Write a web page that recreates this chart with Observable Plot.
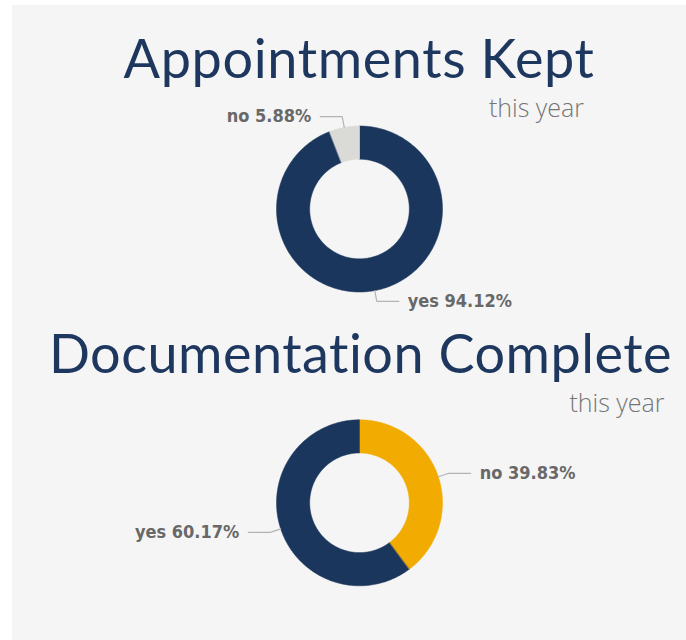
<!DOCTYPE html>
<html>
<head>
<meta charset="utf-8">
<script src="https://cdn.jsdelivr.net/npm/d3@7"></script>
<script src="https://cdn.jsdelivr.net/npm/@observablehq/plot@0.6"></script>
<style>
  html, body { margin: 0; padding: 0; background: #ffffff; }
  body { width: 686px; height: 640px; position: relative; overflow: hidden; }
  #panel { position: absolute; left: 12px; top: 5px; width: 674px; height: 635px; background: #f5f5f5; }
  .title { position: absolute; white-space: nowrap; font-family: Lato, sans-serif; font-weight: 400;
           font-size: 54px; line-height: 1; color: #1d375e; }
  .sub { position: absolute; white-space: nowrap; font-family: "Open Sans", sans-serif; font-weight: 300;
         font-size: 25px; line-height: 1; color: #757575; }
  .chart { position: absolute; left: 0; }
</style>
</head>
<body>
<div id="panel"></div>
<script>
// ---- data ----
const apptTitle = "Appointments Kept";
const apptSubtitle = "this year";
const apptCategories = ["yes", "no"];
const apptValues = [94.12, 5.88];

const docTitle = "Documentation Complete";
const docSubtitle = "this year";
const docCategories = ["no", "yes"];
const docValues = [39.83, 60.17];

// ---- styles ----
const apptColors = ["#1b365d", "#dadad6"];
const docColors = ["#f2ab00", "#1b365d"];

const W = 686;
const R = 83;            // outer radius px
const INNER = 0.6;       // inner radius ratio
const CX = 359;
const LABEL_FONT = "'DejaVu Sans Condensed', 'DejaVu Sans', sans-serif";

// place text so that its alphabetic baseline lands on `baseline`
function baselineTop(el, baseline) {
  const probe = document.createElement("span");
  probe.style.display = "inline-block";
  probe.style.width = "0px";
  probe.style.height = "0px";
  probe.style.verticalAlign = "baseline";
  el.appendChild(probe);
  el.style.top = "0px";
  const off = probe.getBoundingClientRect().top - el.getBoundingClientRect().top;
  el.removeChild(probe);
  el.style.top = (baseline - off) + "px";
}

function addTitle(text, baseline, center, targetWidth) {
  const el = document.createElement("div");
  el.className = "title";
  el.textContent = text;
  document.body.appendChild(el);
  baselineTop(el, baseline);
  const w0 = el.getBoundingClientRect().width;
  const ls = (targetWidth - w0) / text.length;
  el.style.letterSpacing = ls + "px";
  const w1 = el.getBoundingClientRect().width - ls;
  el.style.left = (center - w1 / 2) + "px";
}
function addSub(text, baseline, rightEdge) {
  const el = document.createElement("div");
  el.className = "sub";
  el.textContent = text;
  document.body.appendChild(el);
  baselineTop(el, baseline);
  el.style.right = (W - rightEdge) + "px";
}

function donut(categories, values, colors, top, height, cy) {
  const total = d3.sum(values);
  const rows = [];
  const leaders = [];
  const labels = [];
  let acc = 0;
  categories.forEach((cat, i) => {
    const a0 = acc / total * 360;
    acc += values[i];
    const a1 = acc / total * 360;
    const n = Math.max(2, Math.ceil((a1 - a0) / 1));
    const rad = d => d * Math.PI / 180;
    for (let k = 0; k <= n; k++) {
      const t = rad(a0 + (a1 - a0) * k / n);
      rows.push({cat, x: Math.sin(t), y: Math.cos(t)});
    }
    for (let k = n; k >= 0; k--) {
      const t = rad(a0 + (a1 - a0) * k / n);
      rows.push({cat, x: INNER * Math.sin(t), y: INNER * Math.cos(t)});
    }
    const m = rad((a0 + a1) / 2);
    const sx = Math.sin(m), sy = Math.cos(m);
    const side = sx >= 0 ? 1 : -1;
    const ext = 1 + 11 / R;
    const ex = sx * ext, ey = sy * ext;
    const hx = ex + side * 22 / R;
    leaders.push({cat, x: sx, y: sy}, {cat, x: ex, y: ey}, {cat, x: hx, y: ey});
    labels.push({cat, x: hx, y: ey, side, text: `${cat} ${values[i].toFixed(2)}%`});
  });

  const textOpts = {x: "x", y: "y", text: "text", fill: "#686868", fontSize: 18, fontWeight: "bold",
    fontFamily: LABEL_FONT, lineAnchor: "middle"};
  const plot = Plot.plot({
    width: W,
    height,
    margin: 0,
    style: {background: "none", overflow: "visible"},
    x: {domain: [-CX / R, (W - CX) / R], axis: null},
    y: {domain: [-(height - cy) / R, cy / R], axis: null},
    color: {domain: categories, range: colors},
    marks: [
      Plot.line(rows, {x: "x", y: "y", z: "cat", fill: "cat", stroke: "cat", strokeWidth: 0.5, curve: "linear-closed"}),
      Plot.line(leaders, {x: "x", y: "y", z: "cat", stroke: "#b3b3b3", strokeWidth: 1.2}),
      Plot.text(labels.filter(d => d.side > 0), {...textOpts, textAnchor: "start", dx: 9}),
      Plot.text(labels.filter(d => d.side < 0), {...textOpts, textAnchor: "end", dx: -9})
    ]
  });
  plot.classList.add("chart");
  plot.style.top = top + "px";
  plot.style.position = "absolute";
  document.body.appendChild(plot);
}

addTitle(apptTitle, 78.3, 358.8, 471);
addSub(apptSubtitle, 117.3, 584);
donut(apptCategories, apptValues, apptColors, 100, 220, 108.5);

addTitle(docTitle, 372.7, 360.2, 624);
addSub(docSubtitle, 412.3, 664.5);
donut(docCategories, docValues, docColors, 400, 200, 102.3);
</script>
</body>
</html>
